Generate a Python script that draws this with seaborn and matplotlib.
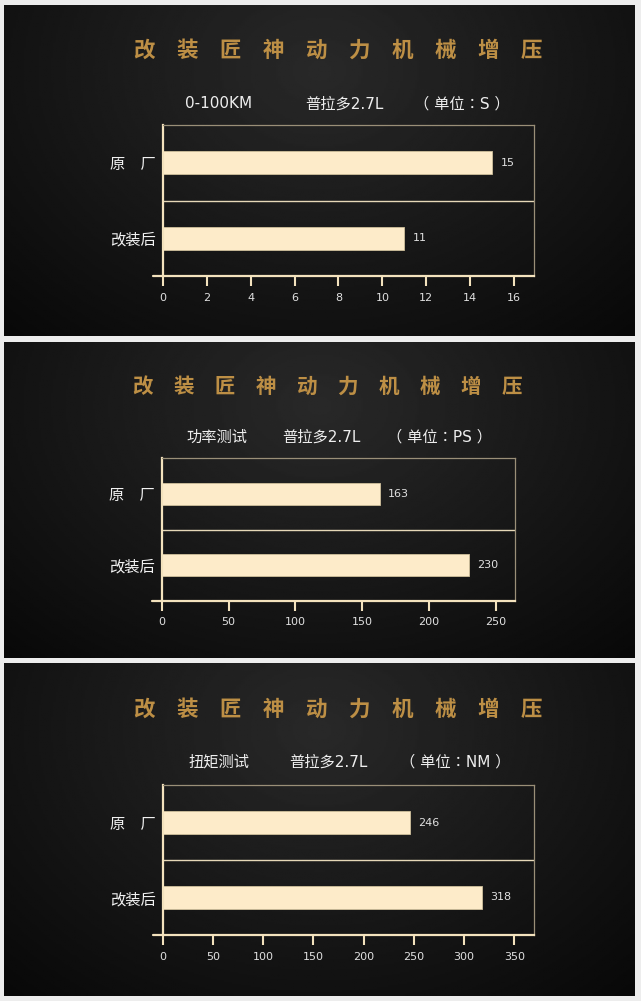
import matplotlib
matplotlib.use('Agg')
import matplotlib.pyplot as plt
from matplotlib.lines import Line2D
import numpy as np
import pandas as pd
import seaborn as sns

### Data
categories = ['原　厂', '改装后']
accel_s = [15, 11]
power_ps = [163, 230]
torque_nm = [246, 318]

brand_title = '改　装　匠　神　动　力　机　械　增　压'
sub_test = ['0-100KM', '功率测试', '扭矩测试']
sub_car = '普拉多2.7L'
sub_unit = ['（ 单位：S ）', '（ 单位：PS ）', '（ 单位：NM ）']
x_ticks = [list(range(0, 17, 2)), list(range(0, 251, 50)), list(range(0, 351, 50))]
x_max = [16.9, 264.5, 369.6]

W, H = 641, 1001
BAR = '#fdebc9'
LINE = '#f3e2bd'
LATIN = ['DejaVu Sans', 'Noto Sans CJK SC']
UNIT = ['DejaVu Sans', 'Noto Sans CJK TC']

sns.set_theme(style='ticks')
plt.rcParams['font.family'] = ['Noto Sans CJK SC', 'DejaVu Sans']

fig = plt.figure(figsize=(W / 100, H / 100), dpi=100, facecolor='#ededed')


def px_box(x0, y0, x1, y1):
    # pixel box (top-left origin) -> figure fraction rect
    return [x0 / W, 1 - y1 / H, (x1 - x0) / W, (y1 - y0) / H]


def panel_background(y0, y1):
    ax = fig.add_axes(px_box(4, y0, 635, y1))
    ny, nx = 200, 300
    yy, xx = np.mgrid[0:1:ny * 1j, 0:1:nx * 1j]
    r = np.sqrt(((xx - 0.5) / 0.75) ** 2 + ((yy - 0.2) / 1.1) ** 2)
    g = np.clip(0.16 - 0.13 * r, 0.035, 0.2)
    ax.imshow(g, cmap='gray', vmin=0, vmax=1, aspect='auto', extent=[0, 1, 1, 0])
    ax.set_axis_off()
    return ax


panels = [
    dict(y=(5, 336), title_y=50, title_x=338, title_fs=15.5, sub_y=104,
         sub_x=(185, 305, 414), box=(162.7, 125, 534, 276), vals=accel_s),
    dict(y=(342, 658), title_y=386, title_x=328, title_fs=14.8, sub_y=437,
         sub_x=(186, 282, 387), box=(161.7, 458.3, 515.3, 600.7), vals=power_ps),
    dict(y=(663, 996), title_y=709, title_x=338, title_fs=15.5, sub_y=762,
         sub_x=(188, 289, 400), box=(162.7, 785, 534, 935), vals=torque_nm),
]

for i, p in enumerate(panels):
    panel_background(*p['y'])

    fig.text(p['title_x'] / W, 1 - p['title_y'] / H, brand_title, ha='center', va='center',
             fontsize=p['title_fs'], fontweight='bold', color='#bd8f45')
    fams = [LATIN, LATIN, UNIT]
    for txt, x, fam in zip([sub_test[i], sub_car, sub_unit[i]], p['sub_x'], fams):
        fig.text(x / W, 1 - p['sub_y'] / H, txt, ha='left', va='center',
                 fontsize=11, color='#eeeeee', family=fam)

    df = pd.DataFrame({'cat': categories, 'val': p['vals']})
    ax = fig.add_axes(px_box(*p['box']))
    ax.patch.set_alpha(0)
    sns.barplot(data=df, y='cat', x='val', orient='h', color=BAR, width=0.3,
                saturation=1, edgecolor='#cfc09c', linewidth=0.6, ax=ax)
    ax.set_xlim(0, x_max[i])
    ax.set_ylim(1.5, -0.5)
    ax.set_xticks(x_ticks[i])
    ax.set_xlabel('')
    ax.set_ylabel('')

    for side in ['top', 'right']:
        ax.spines[side].set_color('#9a8f78')
        ax.spines[side].set_linewidth(0.9)
    for side in ['left', 'bottom']:
        ax.spines[side].set_color(LINE)
        ax.spines[side].set_linewidth(1.6)
    ax.axhline(0.5, color='#e6d8b8', lw=1.0)

    # bottom axis line runs a little past the y axis
    ext = 10 / (p['box'][2] - p['box'][0])
    ax.add_line(Line2D([-ext, 0], [0, 0], transform=ax.transAxes, color=LINE,
                       lw=1.6, clip_on=False))

    ax.tick_params(axis='x', direction='out', length=7, width=1.5, color=LINE,
                   labelsize=8, labelcolor='#e0e0e0', pad=5)
    ax.tick_params(axis='y', length=0, labelsize=11, labelcolor='#f2f2f2', pad=5)
    for lab in ax.get_xticklabels():
        lab.set_family(LATIN)

    for c in ax.containers:
        ax.bar_label(c, labels=[str(v) for v in p['vals']], padding=6,
                     fontsize=8, color='#e0e0e0', family=LATIN)

fig.savefig('out.png', dpi=100, facecolor=fig.get_facecolor())
